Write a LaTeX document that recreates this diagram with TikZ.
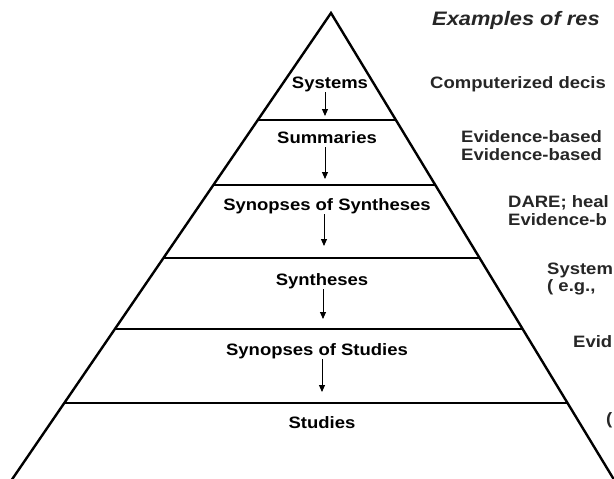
\documentclass[tikz,border=0pt]{standalone}
\usepackage{fontspec}
\setmainfont{Liberation Sans}[FakeStretch=1.12]
\usetikzlibrary{arrows.meta,calc}
\begin{document}
\begin{tikzpicture}[x=1pt,y=-1pt,
  edge/.style={line width=2.4pt,line cap=round,line join=miter},
  band/.style={line width=2.4pt},
  lvl/.style={font=\fontsize{16.5}{19}\selectfont\bfseries,inner sep=0pt,text depth=4pt,anchor=base},
  ex/.style={font=\fontsize{16.5}{19}\selectfont\bfseries,inner sep=0pt,anchor=base west,text=black!85},
  ttl/.style={font=\fontsize{19.5}{22}\selectfont\bfseries\itshape,inner sep=0pt,anchor=base west,text=black!85},
  arr/.style={line width=0.9pt,-{Triangle[length=7pt,width=6pt]}}]
\useasboundingbox (0,0) rectangle (614,479);
\fill[white] (0,0) rectangle (614,479);
\begin{scope}
\clip (0,0) rectangle (614,479);
\coordinate (apex) at (331,13);
\coordinate (bl) at (13,478);
\coordinate (br) at (613,478);
\draw[edge] ($(apex)!1.02!(bl)$) -- (apex) -- ($(apex)!1.02!(br)$);
\foreach \t in {0.2301,0.3699,0.5269,0.6796,0.8387}
  \draw[band] ($(apex)!\t!(bl)$) -- ($(apex)!\t!(br)$);
% level labels
\node[lvl] (sys) at (330,88) {Systems};
\node[lvl] (sum) at (327,143) {Summaries};
\node[lvl] (sos) at (327,210) {Synopses of Syntheses};
\node[lvl] (syn) at (322,285) {Syntheses};
\node[lvl] (sost) at (317,355) {Synopses of Studies};
\node[lvl] (stu) at (322,428) {Studies};
\coordinate (a1) at (325,116);
\coordinate (a2) at (325,179);
\coordinate (a3) at (324,246);
\coordinate (a4) at (323,319);
\coordinate (a5) at (322,392);
\draw[arr] (sys.south -| a1) -- (a1);
\draw[arr] (sum.south -| a2) -- (a2);
\draw[arr] (sos.south -| a3) -- (a3);
\draw[arr] (syn.south -| a4) -- (a4);
\draw[arr] (sost.south -| a5) -- (a5);
% examples column
\node[ttl] (title) at (432,26) {Examples of res};
\node[ex] (e1) at (430,88) {Computerized decis};
\node[ex] (e2) at (461,142) {Evidence-based};
\node[ex] (e3) at (461,160) {Evidence-based};
\node[ex] (e4) at (508,207) {DARE; heal};
\node[ex] (e5) at (508,225) {Evidence-b};
\node[ex] (e6) at (547,274) {System};
\node[ex] (e7) at (547,291) {( e.g.,};
\node[ex] (e8) at (573,347) {Evid};
\node[ex] (e9) at (606,424) {(};
\end{scope}
\end{tikzpicture}
\end{document}
